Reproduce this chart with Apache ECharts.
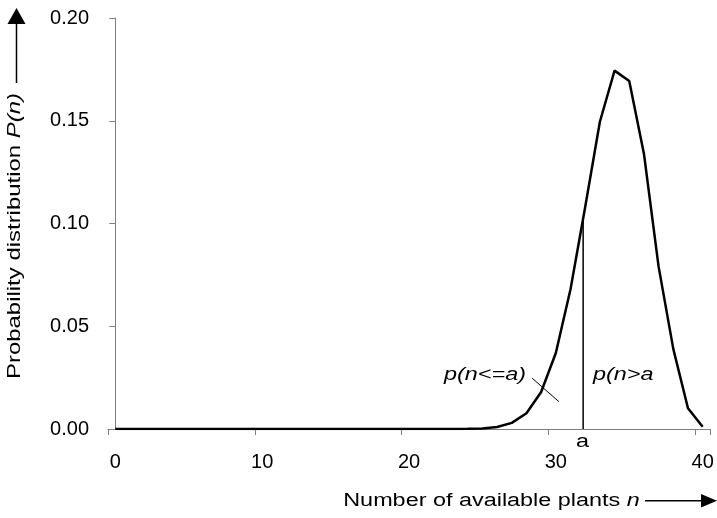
<!DOCTYPE html>
<html>
<head>
<meta charset="utf-8">
<script src="https://cdn.jsdelivr.net/npm/echarts@6/dist/echarts.min.js"></script>
<style>html,body{margin:0;padding:0;background:#fff}#c{width:717px;height:518px}</style>
</head>
<body>
<div id="c"></div>
<script>
// ---- data ----
const categories = ['0','1','2','3','4','5','6','7','8','9','10','11','12','13','14','15','16','17','18','19','20',
  '21','22','23','24','25','26','27','28','29','30','31','32','33','34','35','36','37','38','39','40'];
const probValues = [0,0,0,0,0,0,0,0,0,0,0,0,0,0,0,0,0,0,0,0,0,0,0,
  0.00002,0.00008,0.0003,0.001,0.003,0.0077,0.018,0.037,0.068,0.108,0.1495,0.1744,0.1693,0.134,0.079,0.039,0.0101,0.0011];
const yMin = 0, yMax = 0.2, yInterval = 0.05;
const labelEvery = 10;
const thresholdA = 31.86;       // position of "a" on the n axis
const thresholdTop = 0.102;     // height of the "a" line (meets the curve)
const leaderLine = [[28.39, 0.0247], [30.21, 0.0133]];
const yTitle = 'Probability distribution {i|P(n)}';
const xTitle = 'Number of available plants {i|n}';
const leftLabel = 'p(n<=a)';
const rightLabel = 'p(n>a';
const aLabel = 'a';

const FONT = 'Liberation Sans, Arial, sans-serif';
const AX = '#7f7f7f';

const chart = echarts.init(document.getElementById('c'), null, {renderer: 'canvas'});

function txt(opts) {
  return {
    type: 'text', x: opts.x, y: opts.y, rotation: opts.rotation || 0,
    scaleX: opts.scaleX || 1.3, silent: true, z: 100,
    style: {
      text: opts.text, fill: '#000', fontSize: 18, fontFamily: FONT,
      fontStyle: opts.italic ? 'italic' : 'normal',
      align: opts.align || 'center', verticalAlign: 'middle',
      textAlign: opts.align || 'center', textVerticalAlign: 'middle',
      rich: { i: { fontStyle: 'italic', fontSize: 18, fontFamily: FONT, fill: '#000' } }
    }
  };
}

chart.setOption({
  animation: false,
  backgroundColor: '#fff',
  grid: { left: 108, right: 7, top: 18, bottom: 89, containLabel: false, outerBoundsMode: 'none' },
  xAxis: [{
    type: 'category', data: categories, boundaryGap: true,
    axisLine: { show: true, lineStyle: { color: AX, width: 1 } },
    axisTick: { show: true, interval: labelEvery - 1, length: 6, inside: false, lineStyle: { color: AX } },
    axisLabel: { interval: labelEvery - 1, margin: 23, fontSize: 20, fontFamily: FONT, color: '#000' },
    splitLine: { show: false }
  }, {
    type: 'value', min: -0.5, max: categories.length - 0.5, show: false,
    axisLine: { show: false }, axisTick: { show: false }, axisLabel: { show: false }, splitLine: { show: false }
  }],
  yAxis: {
    type: 'value', min: yMin, max: yMax, interval: yInterval,
    axisLine: { show: true, lineStyle: { color: AX, width: 1 } },
    axisTick: { show: true, length: 6, inside: false, lineStyle: { color: AX } },
    axisLabel: { margin: 19, fontSize: 20, fontFamily: FONT, color: '#000', formatter: v => v.toFixed(2) },
    splitLine: { show: false }
  },
  series: [{
    type: 'line', xAxisIndex: 0, data: probValues, symbol: 'none',
    lineStyle: { color: '#000', width: 2.5 }, z: 5
  }, {
    type: 'line', xAxisIndex: 1, data: [[thresholdA, yMin], [thresholdA, thresholdTop]], symbol: 'none',
    lineStyle: { color: '#000', width: 1.5 }, z: 4
  }, {
    type: 'line', xAxisIndex: 1, data: leaderLine, symbol: 'none',
    lineStyle: { color: '#000', width: 1 }, z: 4
  }],
  graphic: [
    txt({ text: yTitle, x: 15.4, y: 236, rotation: Math.PI / 2, scaleX: 1.33 }),
    { type: 'line', silent: true, shape: { x1: 16.5, y1: 24, x2: 16.5, y2: 83 }, style: { stroke: '#000', lineWidth: 1.5 } },
    { type: 'polygon', silent: true, shape: { points: [[16.5, 8], [7.5, 24], [25.5, 24]] }, style: { fill: '#000' } },
    txt({ text: xTitle, x: 491.5, y: 501, scaleX: 1.3 }),
    { type: 'line', silent: true, shape: { x1: 645, y1: 500.7, x2: 702, y2: 500.7 }, style: { stroke: '#000', lineWidth: 1.5 } },
    { type: 'polygon', silent: true, shape: { points: [[717, 500.7], [701, 494], [701, 507.4]] }, style: { fill: '#000' } },
    txt({ text: leftLabel, x: 526, y: 375, italic: true, align: 'right', scaleX: 1.3 }),
    txt({ text: rightLabel, x: 593, y: 374.5, italic: true, align: 'left', scaleX: 1.3 }),
    txt({ text: aLabel, x: 582.5, y: 442, scaleX: 1.3 })
  ]
});
</script>
</body>
</html>
